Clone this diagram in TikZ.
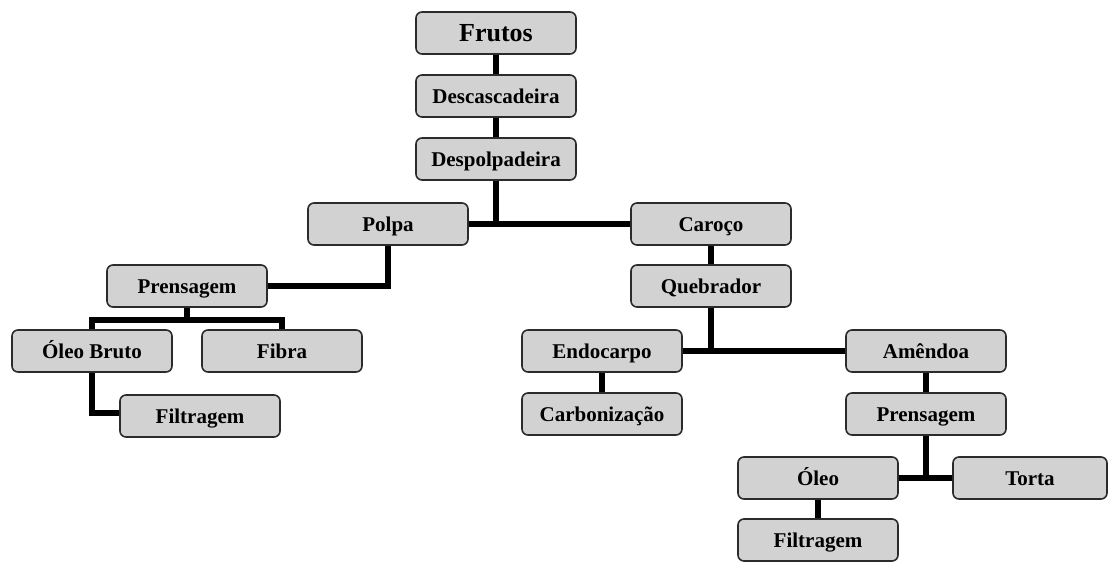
\documentclass[tikz,border=0pt]{standalone}
\usepackage{fontspec}
\setmainfont{Liberation Serif}
\definecolor{boxfill}{HTML}{D2D2D2}
\definecolor{boxline}{HTML}{2B2B2B}
\tikzset{
  box/.style={draw=boxline, line width=1.6pt, fill=boxfill, rounded corners=6pt,
    minimum width=160pt, minimum height=42pt, inner sep=0pt,
    text height=15pt, text depth=1pt,
    font=\fontsize{21}{23}\selectfont\bfseries},
  bigbox/.style={box, text height=18pt, text depth=1pt,
    font=\fontsize{26}{28}\selectfont\bfseries},
  link/.style={line width=6pt, black},
}
\begin{document}
\begin{tikzpicture}[x=1pt, y=-1pt]
\useasboundingbox (0,0) rectangle (1109,562);

% box centres
\coordinate (frutosC) at (496,33);
\coordinate (descC) at (496,96);
\coordinate (despC) at (496,159);
\coordinate (polpaC) at (388,224);
\coordinate (carocoC) at (711,224);
\coordinate (prensAC) at (187,286);
\coordinate (oleobC) at (92,351);
\coordinate (fibraC) at (282,351);
\coordinate (filtAC) at (200,416);
\coordinate (quebC) at (711,286);
\coordinate (endoC) at (602,351);
\coordinate (amendC) at (926,351);
\coordinate (carbC) at (602,414);
\coordinate (prensBC) at (926,414);
\coordinate (oleoC) at (818,478);
\coordinate (tortaC) at (1030,478);
\coordinate (filtBC) at (818,540);

% connectors (drawn first so boxes sit on top)
\draw[link] (frutosC) -- (descC) -- (despC) -- (despC |- polpaC);
\draw[link] (polpaC) -- (carocoC);
\draw[link] (polpaC) |- (prensAC);
\coordinate (splitA) at (187,320);
\draw[link] (prensAC) -- (splitA);
\draw[link] (oleobC) -- (oleobC |- splitA) -- (fibraC |- splitA) -- (fibraC);
\coordinate (bendA) at (92,413);
\draw[link] (oleobC) -- (bendA) -- (filtAC |- bendA);
\draw[link] (carocoC) -- (quebC) -- (quebC |- endoC);
\draw[link] (endoC) -- (amendC);
\draw[link] (endoC) -- (carbC);
\draw[link] (amendC) -- (prensBC) -- (prensBC |- oleoC);
\draw[link] (oleoC) -- (tortaC);
\draw[link] (oleoC) -- (filtBC);

% process boxes
\node[bigbox] (frutos) at (frutosC) {Frutos};
\node[box] (desc) at (descC) {Descascadeira};
\node[box] (desp) at (despC) {Despolpadeira};
\node[box] (polpa) at (polpaC) {Polpa};
\node[box] (caroco) at (carocoC) {Caroço};
\node[box] (prensA) at (prensAC) {Prensagem};
\node[box] (oleob) at (oleobC) {Óleo Bruto};
\node[box] (fibra) at (fibraC) {Fibra};
\node[box] (filtA) at (filtAC) {Filtragem};
\node[box] (queb) at (quebC) {Quebrador};
\node[box] (endo) at (endoC) {Endocarpo};
\node[box] (amend) at (amendC) {Amêndoa};
\node[box] (carb) at (carbC) {Carbonização};
\node[box] (prensB) at (prensBC) {Prensagem};
\node[box] (oleo) at (oleoC) {Óleo};
\node[box, minimum width=154pt] (torta) at (tortaC) {Torta};
\node[box] (filtB) at (filtBC) {Filtragem};
\end{tikzpicture}
\end{document}
